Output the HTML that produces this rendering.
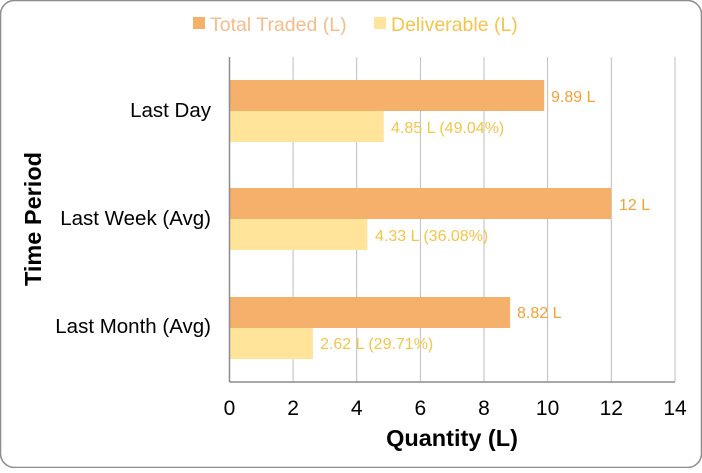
<!DOCTYPE html>
<html><head><style>
body{margin:0;background:#fff;}
text{font-family:"Liberation Sans",Arial,sans-serif;}
</style></head><body>
<svg width="702" height="468" xmlns="http://www.w3.org/2000/svg">
<rect x="0.5" y="0.5" width="701" height="467" rx="14" fill="#fff" stroke="#8c8c8c" stroke-width="1.5"/>
<g stroke="#bdbdbd" stroke-width="1">
<line x1="293.1" y1="57" x2="293.1" y2="382"/>
<line x1="356.7" y1="57" x2="356.7" y2="382"/>
<line x1="420.4" y1="57" x2="420.4" y2="382"/>
<line x1="484" y1="57" x2="484" y2="382"/>
<line x1="547.6" y1="57" x2="547.6" y2="382"/>
<line x1="611.3" y1="57" x2="611.3" y2="382"/>
<line x1="675" y1="57" x2="675" y2="382"/>
</g>
<g fill="#F5B06C">
<rect x="229.5" y="80" width="314.7" height="31"/>
<rect x="229.5" y="188" width="381.8" height="31"/>
<rect x="229.5" y="297" width="280.6" height="31"/>
</g>
<g fill="#FFE49A">
<rect x="229.5" y="111" width="154.3" height="31"/>
<rect x="229.5" y="219" width="137.8" height="31"/>
<rect x="229.5" y="328" width="83.4" height="31"/>
</g>
<line x1="229.5" y1="57" x2="229.5" y2="382" stroke="#8c8c8c" stroke-width="1.5"/>
<line x1="229.5" y1="382" x2="675" y2="382" stroke="#8c8c8c" stroke-width="1.5"/>
<g font-size="16" fill="#F7A035">
<text x="551" y="102">9.89 L</text>
<text x="619" y="210">12 L</text>
<text x="517" y="318">8.82 L</text>
</g>
<g font-size="16" fill="#F5C44A">
<text x="391" y="133">4.85 L (49.04%)</text>
<text x="375" y="241">4.33 L (36.08%)</text>
<text x="320" y="349">2.62 L (29.71%)</text>
</g>
<g font-size="20.5" fill="#000" text-anchor="end">
<text x="211" y="117">Last Day</text>
<text x="211" y="225">Last Week (Avg)</text>
<text x="211" y="333">Last Month (Avg)</text>
</g>
<g font-size="21" fill="#000" text-anchor="middle">
<text x="229.5" y="415">0</text>
<text x="293.1" y="415">2</text>
<text x="356.7" y="415">4</text>
<text x="420.4" y="415">6</text>
<text x="484" y="415">8</text>
<text x="547.6" y="415">10</text>
<text x="611.3" y="415">12</text>
<text x="675" y="415">14</text>
</g>
<text x="452" y="446" font-size="23.5" font-weight="bold" text-anchor="middle">Quantity (L)</text>
<text transform="translate(41,219) rotate(-90)" font-size="23.5" font-weight="bold" text-anchor="middle">Time Period</text>
<rect x="193" y="17" width="12" height="12" fill="#F5B06C"/>
<text x="210" y="31" font-size="19.5" fill="#F5BC8C">Total Traded (L)</text>
<rect x="374" y="17" width="12" height="12" fill="#FFE49A"/>
<text x="391" y="31" font-size="19.5" fill="#F5C44A">Deliverable (L)</text>
</svg>
</body></html>
